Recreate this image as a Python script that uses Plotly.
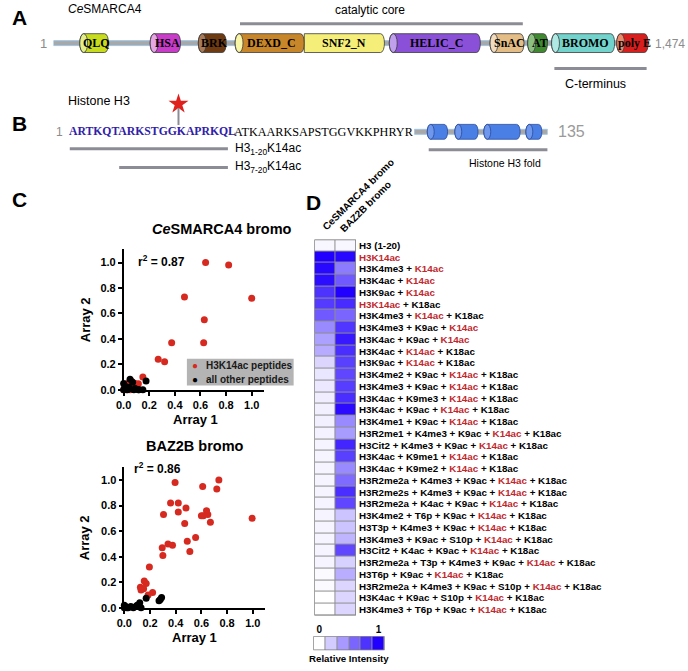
import plotly.graph_objects as go

W, H = 688, 671
def fx(p): return p / W
def fy(p): return 1 - p / H

SANS = "Liberation Sans, Arial, sans-serif"
SERIF = "Liberation Serif, Times New Roman, serif"
RED = "#d62a20"
TXT_RED = "#c0282d"
LINE_GRAY = "#8c8c96"

# ---------------- Panel A data ----------------
protein_len = 1474
dom_names = ["QLQ", "HSA", "BRK", "DEXD_C", "SNF2_N", "HELIC_C", "SnAC", "AT", "BROMO", "poly E"]
dom_start = [66, 240, 359, 450, 621, 831, 1080, 1173, 1232, 1393]
dom_end = [137, 315, 428, 621, 819, 1056, 1164, 1222, 1388, 1471]
dom_colors = ["#c8dc1e", "#c93cc9", "#6e3a12", "#c8862a", "#f5ef7a", "#8a50d8", "#e3bd85", "#3f8a30", "#72d3cc", "#d91e1e"]
dom_caps = ["#e2ee8a", "#e4a6e4", "#a87a58", "#f8f4a8", None, "#c0a0ec", "#f1dcc0", "#8cc080", "#b0e8e4", "#ec8a6a"]
catalytic_core = [462, 1161]
c_terminus = [1239, 1467]

# ---------------- Panel B data ----------------
h3_len = 135
seq_blue = "ARTKQTARKSTGGKAPRKQL"
seq_black = "ATKAARKSAPSTGGVKKPHRYR"
acetyl_site = 14
peptide_labels = ["H3<sub>1-20</sub>K14ac", "H3<sub>7-20</sub>K14ac"]
peptide_start = [1, 7]
peptide_end = [20, 20]
helix_start = [52, 71, 91, 120]
helix_end = [66, 87, 116, 131]
fold_start, fold_end = 53, 135

# ---------------- Panel C data ----------------
ce_k14_x = [0.64, 0.82, 1.27, 0.475, 1.0, 0.63, 0.625, 0.375, 0.27, 0.32, 0.15, 0.115,
            0.0, 0.01, 0.02, 0.03, 0.04, 0.05, 0.06, 0.07, 0.08, 0.05, 0.09, 0.03, 0.06, 0.01, 0.07]
ce_k14_y = [1.0, 0.98, 0.90, 0.73, 0.72, 0.55, 0.37, 0.37, 0.24, 0.22, 0.10, 0.047,
            0.0, 0.01, 0.0, 0.02, 0.04, 0.03, 0.07, 0.05, 0.03, 0.0, 0.05, 0.05, 0.02, 0.03, 0.01]
ce_other_x = [0.0, 0.05, 0.07, 0.175, 0.115, 0.15, 0.0, 0.02, 0.03, 0.04, 0.09, 0.01, 0.08, 0.12]
ce_other_y = [0.05, 0.083, 0.06, 0.07, 0.0, 0.0, 0.0, 0.01, 0.0, 0.02, 0.01, 0.03, 0.0, 0.0]

baz_k14_x = [0.736, 0.395, 0.61, 0.72, 0.36, 0.42, 0.48, 0.42, 0.64, 0.305, 0.60, 0.615, 0.65,
             0.995, 0.67, 0.47, 0.555, 0.49, 0.34, 0.375, 0.295, 0.51, 0.30, 0.195, 0.155,
             0.17, 0.125, 0.15, 0.13, 0.22, 0.185]
baz_k14_y = [1.0, 0.98, 0.95, 0.93, 0.82, 0.82, 0.78, 0.75, 0.76, 0.73, 0.72, 0.72, 0.73,
             0.70, 0.67, 0.66, 0.55, 0.52, 0.50, 0.49, 0.47, 0.44, 0.41, 0.32, 0.21,
             0.19, 0.16, 0.15, 0.14, 0.12, 0.10]
baz_other_x = [0.0, 0.0, 0.01, 0.03, 0.05, 0.07, 0.09, 0.1, 0.12, 0.13, 0.11, 0.17, 0.27, 0.28, 0.29, 0.02]
baz_other_y = [0.02, 0.0, 0.01, 0.0, 0.01, 0.0, 0.01, 0.02, 0.04, 0.0, 0.02, 0.075, 0.055, 0.065, 0.08, 0.0]

# ---------------- Panel D data ----------------
peptides = [
    "H3 (1-20)", "H3K14ac", "H3K4me3 + K14ac", "H3K4ac + K14ac", "H3K9ac + K14ac",
    "H3K14ac + K18ac", "H3K4me3 + K14ac + K18ac", "H3K4me3 + K9ac + K14ac",
    "H3K4ac + K9ac + K14ac", "H3K4ac + K14ac + K18ac", "H3K9ac + K14ac + K18ac",
    "H3K4me2 + K9ac + K14ac + K18ac", "H3K4me3 + K9ac + K14ac + K18ac",
    "H3K4ac + K9me3 + K14ac + K18ac", "H3K4ac + K9ac + K14ac + K18ac",
    "H3K4me1 + K9ac + K14ac + K18ac", "H3R2me1 + K4me3 + K9ac + K14ac + K18ac",
    "H3Cit2 + K4me3 + K9ac + K14ac + K18ac", "H3K4ac + K9me1 + K14ac + K18ac",
    "H3K4ac + K9me2 + K14ac + K18ac", "H3R2me2a + K4me3 + K9ac + K14ac + K18ac",
    "H3R2me2s + K4me3 + K9ac + K14ac + K18ac", "H3R2me2a + K4ac + K9ac + K14ac + K18ac",
    "H3K4me2 + T6p + K9ac + K14ac + K18ac", "H3T3p + K4me3 + K9ac + K14ac + K18ac",
    "H3K4me3 + K9ac + S10p + K14ac + K18ac", "H3Cit2 + K4ac + K9ac + K14ac + K18ac",
    "H3R2me2a + T3p + K4me3 + K9ac + K14ac + K18ac", "H3T6p + K9ac + K14ac + K18ac",
    "H3R2me2a + K4me3 + K9ac + S10p + K14ac + K18ac", "H3K4ac + K9ac + S10p + K14ac + K18ac",
    "H3K4me3 + T6p + K9ac + K14ac + K18ac",
]
heat_columns = ["CeSMARCA4 bromo", "BAZ2B bromo"]
cesmarca4_int = [0.03, 1.0, 0.97, 0.95, 0.8, 0.77, 0.65, 0.46, 0.37, 0.33, 0.16, 0.1, 0.09, 0.07,
                 0.06, 0.06, 0.05, 0.04, 0.04, 0.04, 0.04, 0.04, 0.04, 0.04, 0.04, 0.04, 0.04,
                 0.04, 0.02, 0.02, 0.0, 0.0]
baz2b_int = [0.03, 0.97, 0.52, 0.65, 1.0, 0.83, 0.6, 0.79, 0.9, 0.82, 0.75, 0.72, 0.76, 0.82,
             0.96, 0.46, 0.39, 0.85, 0.75, 0.46, 0.58, 0.82, 0.72, 0.23, 0.23, 0.29, 0.72,
             0.18, 0.32, 0.16, 0.16, 0.16]
scale_steps = [0, 0.2, 0.4, 0.6, 0.8, 1.0]
scale_labels = ["0", "1"]
BLUE_SCALE = [[0, "#ffffff"], [1, "#2200ff"]]

fig = go.Figure()
shapes = []
ann = []

def text(x, y, s, size=12, color="black", weight="normal", family=SANS, xanchor="center",
         yanchor="middle", angle=0, xref="paper", yref="paper"):
    if xref == "paper":
        x = fx(x)
    if yref == "paper":
        y = fy(y)
    ann.append(dict(x=x, y=y, xref=xref, yref=yref, text=s, showarrow=False,
                    xanchor=xanchor, yanchor=yanchor, textangle=angle,
                    font=dict(family=family, size=size, color=color, weight=weight)))

# ---------- Panel A ----------
r_res = 4 * protein_len / 603.0  # ellipse half-width in residues (~4 px)
shapes.append(dict(type="line", xref="x", yref="y", x0=catalytic_core[0], x1=catalytic_core[1],
                   y0=24, y1=24, line=dict(color=LINE_GRAY, width=3)))
shapes.append(dict(type="line", xref="x", yref="y", x0=c_terminus[0], x1=c_terminus[1],
                   y0=69, y1=69, line=dict(color=LINE_GRAY, width=3)))
shapes.append(dict(type="rect", xref="x", yref="y", x0=1, x1=protein_len, y0=41, y1=46,
                   fillcolor="#a8a8a8", line=dict(color="#9ec5e8", width=1)))
top, bot = 34, 53
for name, s, e, c, cap in zip(dom_names, dom_start, dom_end, dom_colors, dom_caps):
    if cap is None:
        path = (f"M {s},{top} L {e - r_res},{top} C {e + r_res / 3},{top} {e + r_res / 3},{bot} "
                f"{e - r_res},{bot} L {s},{bot} Z")
    else:
        path = (f"M {s + r_res},{top} L {e - r_res},{top} C {e + r_res / 3},{top} {e + r_res / 3},{bot} "
                f"{e - r_res},{bot} L {s + r_res},{bot} C {s - r_res / 3},{bot} {s - r_res / 3},{top} "
                f"{s + r_res},{top} Z")
    shapes.append(dict(type="path", xref="x", yref="y", path=path, fillcolor=c,
                       line=dict(color="#3a3a3a", width=0.8)))
    if cap is not None:
        shapes.append(dict(type="circle", xref="x", yref="y", x0=s, x1=s + 2 * r_res, y0=top, y1=bot,
                           fillcolor=cap, line=dict(color="#3a3a3a", width=0.8)))
    cx = (s + e) / 2 + (r_res / 2 if cap is not None else 0)
    text(cx, (top + bot) / 2, name, size=12, weight="bold", family=SERIF, xref="x", yref="y",
         color="black")

text(12, 18, "A", size=21, weight="bold")
text(59, 9, "<i>Ce</i>SMARCA4", size=12, xanchor="left")
text(366, 10, "catalytic core", size=12)
text(36, 44, "1", size=13, color="#8c8c8c")
text(687, 44, f"{protein_len:,}", size=12, color="#8c8c8c", xanchor="right")
text(594, 85, "C-terminus", size=12.5)

# ---------- Panel B ----------
SEQ_Y = 133
text(12, 125, "B", size=21, weight="bold")
text(59, 102, "Histone H3", size=12.5, xanchor="left")
text(52, SEQ_Y, "1", size=12, color="#8c8c8c")
text(0.5, SEQ_Y, f"<b>{seq_blue}</b>", size=11.7, family=SERIF, color="#2f20a8",
     xanchor="left", xref="x2", yref="y2")
text(len(seq_blue) + 0.5, SEQ_Y, seq_black, size=12.2, family=SERIF, color="black",
     xanchor="left", xref="x2", yref="y2")
# star marking the acetylation site
shapes.append(dict(type="line", xref="x2", yref="y2", x0=acetyl_site, x1=acetyl_site, y0=109, y1=126,
                   line=dict(color=LINE_GRAY, width=2)))
fig.add_trace(go.Scatter(x=[acetyl_site], y=[105], xaxis="x2", yaxis="y2", mode="markers",
                         marker=dict(symbol="star", size=15, color="#e0201c"),
                         showlegend=False, hoverinfo="skip"))
# peptides
for lab, s, e, yy in zip(peptide_labels, peptide_start, peptide_end, [150, 169]):
    shapes.append(dict(type="line", xref="x2", yref="y2", x0=s - 0.2, x1=e, y0=yy, y1=yy,
                       line=dict(color=LINE_GRAY, width=3)))
    text(e + 0.6, yy, lab, size=12, xanchor="left", xref="x2", yref="y2")
# histone fold backbone + helices
shapes.append(dict(type="rect", xref="x3", yref="y2", x0=43, x1=h3_len, y0=SEQ_Y - 2.5, y1=SEQ_Y + 2.5,
                   fillcolor="#a8a8a8", line=dict(color="#9ec5e8", width=1)))
hr = 3.5 * (135 - 43) / 135.0
htop, hbot = SEQ_Y - 7.5, SEQ_Y + 7.5
for s, e in zip(helix_start, helix_end):
    path = (f"M {s + hr},{htop} L {e - hr},{htop} C {e + hr / 3},{htop} {e + hr / 3},{hbot} "
            f"{e - hr},{hbot} L {s + hr},{hbot} C {s - hr / 3},{hbot} {s - hr / 3},{htop} {s + hr},{htop} Z")
    shapes.append(dict(type="path", xref="x3", yref="y2", path=path, fillcolor="#4a7fe6",
                       line=dict(color="#2a4a9a", width=0.8)))
    shapes.append(dict(type="circle", xref="x3", yref="y2", x0=s, x1=s + 2 * hr, y0=htop, y1=hbot,
                       fillcolor="#6f98ec", line=dict(color="#2a4a9a", width=0.8)))
shapes.append(dict(type="line", xref="x3", yref="y2", x0=fold_start, x1=fold_end, y0=151, y1=151,
                   line=dict(color=LINE_GRAY, width=3)))
text(503, 164, "Histone H3 fold", size=10.5)
text(554, SEQ_Y, str(h3_len), size=16, color="#9a9a9a", xanchor="left")

# ---------- Panel C ----------
text(12, 201, "C", size=21, weight="bold")
for ax, kx, ky, ox, oy in [("4", ce_k14_x, ce_k14_y, ce_other_x, ce_other_y),
                           ("5", baz_k14_x, baz_k14_y, baz_other_x, baz_other_y)]:
    fig.add_trace(go.Scatter(x=kx, y=ky, xaxis="x" + ax, yaxis="y" + ax, mode="markers",
                             marker=dict(color=RED, size=7), cliponaxis=False,
                             name="H3K14ac peptides", showlegend=False))
    fig.add_trace(go.Scatter(x=ox, y=oy, xaxis="x" + ax, yaxis="y" + ax, mode="markers",
                             marker=dict(color="black", size=7), cliponaxis=False,
                             name="all other peptides", showlegend=False))

text(217, 231, "<i>Ce</i>SMARCA4 bromo", size=14.5, weight="bold")
text(189, 450, "BAZ2B bromo", size=14.5, weight="bold")
text(129, 263, "r<sup>2</sup> = 0.87", size=12, weight="bold", xanchor="left")
text(125, 472, "r<sup>2</sup> = 0.86", size=12, weight="bold", xanchor="left")
text(190, 423, "Array 1", size=13, weight="bold")
text(189, 643, "Array 1", size=13, weight="bold")
text(78, 323, "Array 2", size=13, weight="bold", angle=-90)
text(77, 543, "Array 2", size=13, weight="bold", angle=-90)
# legend box
shapes.append(dict(type="rect", xref="paper", yref="paper", x0=fx(181), x1=fx(289), y0=fy(389),
                   y1=fy(362), fillcolor="#b4b4b4", line=dict(width=0)))
text(189, 369, "●", size=10, color=RED)
text(189, 382.5, "●", size=10, color="black")
text(198, 369, "H3K14ac peptides", size=10, weight="bold", xanchor="left", color="#1a1a1a")
text(198, 382.5, "all other peptides", size=10, weight="bold", xanchor="left", color="#1a1a1a")

# ---------- Panel D ----------
text(309, 204, "D", size=21, weight="bold")

def fmt(label):
    if label.startswith("H3K14ac"):
        return f'<span style="color:{TXT_RED}">H3K14ac</span>' + label[len("H3K14ac"):]
    return label.replace("K14ac", f'<span style="color:{TXT_RED}">K14ac</span>')

n = len(peptides)
zrows = [[a, b] for a, b in zip(cesmarca4_int, baz2b_int)]
shapes.append(dict(type="rect", xref="x6", yref="y6", x0=-0.5, x1=1.5, y0=-0.5, y1=n - 0.5,
                   fillcolor="#8e8e8e", line=dict(width=0), layer="below"))
fig.add_trace(go.Heatmap(z=zrows, x=[0, 1], y=list(range(n)), xaxis="x6", yaxis="y6",
                         colorscale=BLUE_SCALE, zmin=0, zmax=1, showscale=False,
                         xgap=1, ygap=1, hoverinfo="skip"))
shapes.append(dict(type="rect", xref="x6", yref="y6", x0=-0.5, x1=1.5, y0=-0.5, y1=n - 0.5,
                   fillcolor="rgba(0,0,0,0)", line=dict(color="#7a7a7a", width=1.2)))
text(313, 237, heat_columns[0], size=10, weight="bold", xanchor="left", yanchor="bottom", angle=-45)
text(331, 239, heat_columns[1], size=10, weight="bold", xanchor="left", yanchor="bottom", angle=-45)

# mini colour key
shapes.append(dict(type="rect", xref="x7", yref="y7", x0=-0.5, x1=len(scale_steps) - 0.5, y0=-0.5,
                   y1=0.5, fillcolor="#8e8e8e", line=dict(width=0), layer="below"))
fig.add_trace(go.Heatmap(z=[scale_steps], x=list(range(len(scale_steps))), y=[0], xaxis="x7",
                         yaxis="y7", colorscale=BLUE_SCALE, zmin=0, zmax=1, showscale=False,
                         xgap=1, ygap=0, hoverinfo="skip"))
shapes.append(dict(type="rect", xref="x7", yref="y7", x0=-0.5, x1=len(scale_steps) - 0.5, y0=-0.5,
                   y1=0.5, fillcolor="rgba(0,0,0,0)", line=dict(color="#7a7a7a", width=1.2)))
text(345, 664, "Relative Intensity", size=9.7, weight="bold")

scatter_axis = dict(showline=True, linecolor="black", linewidth=1.5, ticks="outside", ticklen=4,
                    tickwidth=1.5, tickcolor="black", showgrid=False, zeroline=False,
                    tickvals=[0, 0.2, 0.4, 0.6, 0.8, 1.0], tickformat=".1f",
                    tickfont=dict(family=SANS, size=11, color="black", weight="bold"))
hidden = dict(visible=False, showgrid=False, zeroline=False)

fig.update_layout(
    width=W, height=H, margin=dict(l=0, r=0, t=0, b=0),
    paper_bgcolor="white", plot_bgcolor="rgba(0,0,0,0)", showlegend=False,
    xaxis=dict(domain=[fx(46), fx(649)], range=[1, protein_len], anchor="y", **hidden),
    yaxis=dict(domain=[fy(100), fy(0)], range=[100, 0], anchor="x", **hidden),
    xaxis2=dict(domain=[fx(60), fx(410)], range=[0.5, 42.5], anchor="y2", **hidden),
    yaxis2=dict(domain=[fy(200), fy(90)], range=[200, 90], anchor="x2", **hidden),
    xaxis3=dict(domain=[fx(411), fx(546)], range=[43, h3_len], anchor="y2", **hidden),
    xaxis4=dict(domain=[fx(117), fx(259)], range=[0, 1.096], anchor="y4", **scatter_axis),
    yaxis4=dict(domain=[fy(393.3), fy(251.7)], range=[0, 1.103], anchor="x4", **scatter_axis),
    xaxis5=dict(domain=[fx(117.7), fx(260)], range=[0, 1.095], anchor="y5", **scatter_axis),
    yaxis5=dict(domain=[fy(613.3), fy(471.7)], range=[0, 1.098], anchor="x5", **scatter_axis),
    xaxis6=dict(domain=[fx(310), fx(352)], range=[-0.5, 1.5], anchor="y6", **hidden),
    yaxis6=dict(domain=[fy(621), fy(241.7)], range=[n - 0.5, -0.5], anchor="x6", side="right",
                tickvals=list(range(n)), ticktext=[fmt(p) for p in peptides], ticks="",
                showline=False, showgrid=False, zeroline=False, ticklabelstandoff=2,
                tickfont=dict(family=SANS, size=9.8, color="black", weight="bold")),
    xaxis7=dict(domain=[fx(309), fx(381)], range=[-0.5, len(scale_steps) - 0.5], anchor="y7",
                side="top", tickvals=[0, len(scale_steps) - 1], ticktext=scale_labels, ticks="",
                showline=False, showgrid=False, zeroline=False,
                tickfont=dict(family=SANS, size=10, color="black", weight="bold")),
    yaxis7=dict(domain=[fy(656), fy(642)], range=[-0.5, 0.5], anchor="x7", **hidden),
    shapes=shapes, annotations=ann,
)

# remove the browser's default 8px body margin so the figure fills the window exactly
fig.write_html("out.html", config={"displayModeBar": False},
               post_script="document.body.style.margin='0px';")
